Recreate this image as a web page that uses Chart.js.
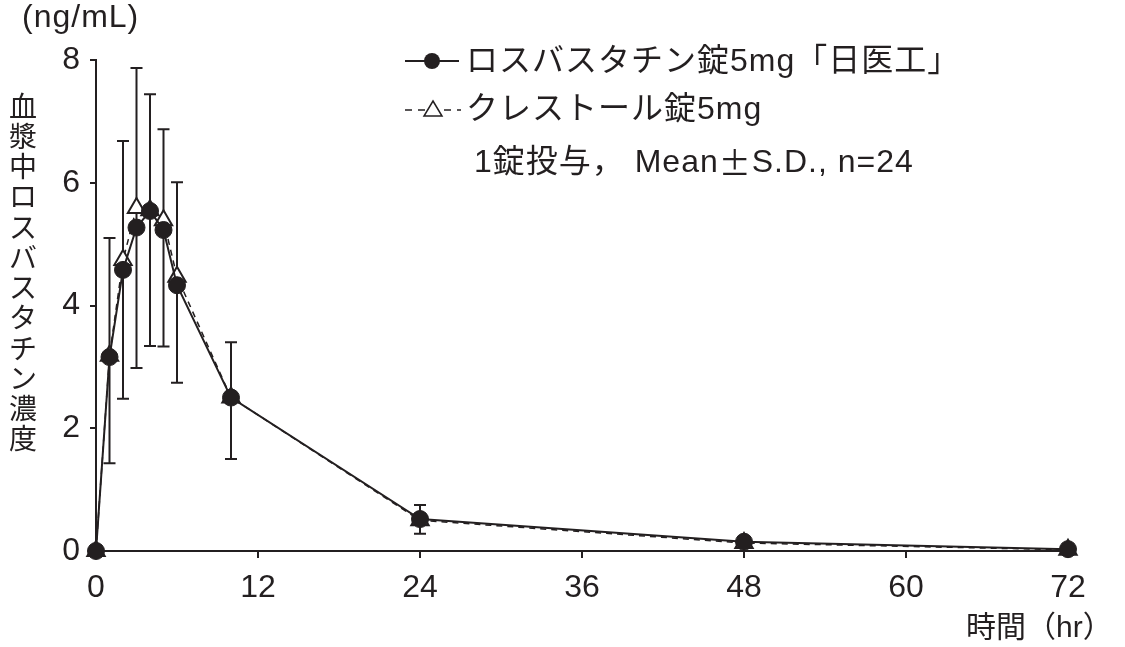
<!DOCTYPE html>
<html lang="ja">
  <head>
    <meta charset="UTF-8" />
    <title>ロスバスタチン血漿中濃度</title>
    <script src="https://cdn.jsdelivr.net/npm/chart.js"></script>
    <style>
      body { margin: 0; background: #fff; }
      .wrap { width: 1125px; height: 647px; position: relative; }
    </style>
  </head>
  <body>
    <div class="wrap">
      <canvas id="pkChart"></canvas>
    </div>

    <script>
      // data
      const times = [0, 1, 2, 3, 4, 5, 6, 10, 24, 48, 72];
      const generic = [0, 3.16, 4.58, 5.27, 5.54, 5.23, 4.33, 2.50, 0.52, 0.15, 0.03];
      const crestor = [0, 3.18, 4.74, 5.59, 5.55, 5.39, 4.47, 2.50, 0.50, 0.13, 0.02];
      const errHigh = [null, 5.10, 6.68, 7.87, 7.44, 6.87, 6.01, 3.40, 0.75, null, null];
      const errLow = [null, 1.43, 2.48, 2.98, 3.34, 3.33, 2.74, 1.50, 0.28, null, null];
      const xTicks = [0, 12, 24, 36, 48, 60, 72];
      const yTicks = [0, 2, 4, 6, 8];

      const legendLabels = ['ロスバスタチン錠5mg「日医工」', 'クレストール錠5mg'];
      const yTitle = '血漿中ロスバスタチン濃度';
      const unitText = '(ng/mL)';
      const xTitle = '時間（hr）';

      const INK = '#231f20';
      const FONT = '"Liberation Sans", "Noto Sans CJK JP", sans-serif';
      const CJK = '"Noto Sans CJK JP", sans-serif';

      // note line is drawn in runs so that ± gets the full-width CJK glyph
      const noteRuns = [['1錠投与，', FONT], [' Mean', FONT], ['±', CJK], ['S.D., n=24', FONT]];

      const toPts = (ys) => times.map((t, i) => ({ x: t, y: ys[i] }));

      // error bars, drawn under the markers
      const errorBars = {
        id: 'errorBars',
        beforeDatasetsDraw(chart) {
          const { ctx, scales: { x, y } } = chart;
          ctx.save();
          ctx.strokeStyle = INK;
          ctx.lineWidth = 2;
          times.forEach((t, i) => {
            if (errHigh[i] == null) return;
            const px = x.getPixelForValue(t);
            const top = y.getPixelForValue(errHigh[i]);
            const bot = y.getPixelForValue(errLow[i]);
            ctx.beginPath();
            ctx.moveTo(px, top); ctx.lineTo(px, bot);
            ctx.moveTo(px - 6, top); ctx.lineTo(px + 6, top);
            ctx.moveTo(px - 6, bot); ctx.lineTo(px + 6, bot);
            ctx.stroke();
          });
          ctx.restore();
        }
      };

      // legend, note and titles
      const labels = {
        id: 'labels',
        afterDraw(chart) {
          const { ctx } = chart;
          ctx.save();
          ctx.fillStyle = INK;
          ctx.strokeStyle = INK;
          ctx.textBaseline = 'middle';

          // legend row 1
          ctx.lineWidth = 2;
          ctx.beginPath(); ctx.moveTo(405, 61); ctx.lineTo(459, 61); ctx.stroke();
          ctx.beginPath(); ctx.arc(432, 61, 8, 0, Math.PI * 2); ctx.fill();
          // legend row 2
          ctx.lineWidth = 1.5;
          ctx.setLineDash([7, 6]);
          ctx.beginPath(); ctx.moveTo(405, 110); ctx.lineTo(461, 110); ctx.stroke();
          ctx.setLineDash([]);
          ctx.fillStyle = '#fff';
          ctx.beginPath();
          ctx.moveTo(433, 101); ctx.lineTo(442, 116); ctx.lineTo(424, 116); ctx.closePath();
          ctx.fill(); ctx.stroke();

          ctx.fillStyle = INK;
          ctx.textAlign = 'left';
          ctx.letterSpacing = '1px';
          ctx.font = '32px ' + FONT;
          ctx.fillText(legendLabels[0], 466, 62);
          ctx.fillText(legendLabels[1], 466, 110);

          let nx = 474;
          noteRuns.forEach(([txt, fam]) => {
            ctx.font = '32px ' + fam;
            ctx.fillText(txt, nx, 163);
            nx += ctx.measureText(txt).width;
          });

          // unit
          ctx.font = '32px ' + FONT;
          ctx.fillText(unitText, 22, 18);

          // vertical y title
          ctx.letterSpacing = '0px';
          ctx.font = '28px ' + FONT;
          ctx.textAlign = 'center';
          [...yTitle].forEach((ch, i) => ctx.fillText(ch, 23, 109 + i * 30.25));

          // x title
          ctx.font = '30px ' + FONT;
          ctx.textAlign = 'left';
          ctx.fillText(xTitle, 966, 629);
          ctx.restore();
        }
      };

      new Chart(document.getElementById('pkChart'), {
        type: 'line',
        data: {
          datasets: [
            {
              label: legendLabels[0],
              data: toPts(generic),
              borderColor: INK,
              borderWidth: 2,
              pointRadius: 8.5,
              pointBackgroundColor: INK,
              pointBorderColor: INK,
              pointBorderWidth: 1,
              tension: 0,
              clip: false
            },
            {
              label: legendLabels[1],
              data: toPts(crestor),
              borderColor: INK,
              borderWidth: 1.5,
              borderDash: [6, 5],
              pointStyle: 'triangle',
              pointRadius: 10,
              pointBackgroundColor: '#fff',
              pointBorderColor: INK,
              pointBorderWidth: 2,
              tension: 0,
              clip: false
            }
          ]
        },
        options: {
          responsive: true,
          maintainAspectRatio: false,
          animation: false,
          layout: { padding: { top: 60, right: 57, left: 0, bottom: 0 } },
          plugins: {
            legend: { display: false },
            tooltip: { enabled: false }
          },
          scales: {
            x: {
              type: 'linear',
              min: 0,
              max: 72,
              afterBuildTicks: (axis) => { axis.ticks = xTicks.map(v => ({ value: v })); },
              afterFit: (axis) => { axis.height = 96; },
              ticks: { color: INK, font: { family: FONT, size: 32 }, padding: 11, maxRotation: 0 },
              grid: { drawOnChartArea: false, drawTicks: true, tickLength: 7, color: INK, lineWidth: 2 },
              border: { display: true, color: INK, width: 2 }
            },
            y: {
              min: 0,
              max: 8,
              afterBuildTicks: (axis) => { axis.ticks = yTicks.map(v => ({ value: v })); },
              afterFit: (axis) => { axis.width = 96; },
              ticks: { color: INK, font: { family: FONT, size: 32 }, padding: 10 },
              grid: { drawOnChartArea: false, drawTicks: true, tickLength: 6, color: INK, lineWidth: 2 },
              border: { display: true, color: INK, width: 2 }
            }
          }
        },
        plugins: [errorBars, labels]
      });
    </script>
  </body>
</html>
